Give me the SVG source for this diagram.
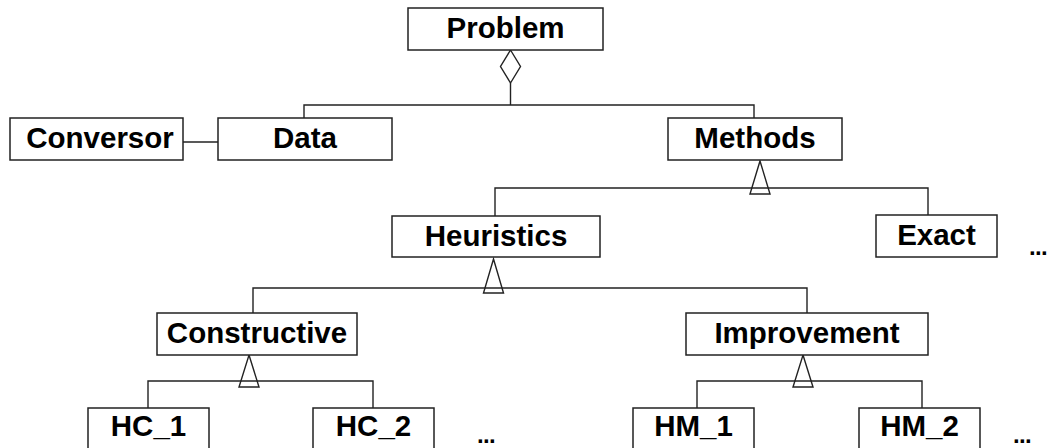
<svg xmlns="http://www.w3.org/2000/svg" width="1047" height="448" viewBox="0 0 1047 448">
<style>
.box{fill:#fff;stroke:#222;stroke-width:1.5}
.lbl{font-family:"Liberation Sans",Arial,sans-serif;font-weight:bold;font-size:29.5px;fill:#000;text-anchor:middle}
.dots{font-family:"Liberation Sans",Arial,sans-serif;font-weight:bold;font-size:24px;letter-spacing:-0.7px;fill:#000}
.ln{fill:none;stroke:#222;stroke-width:1.4}
.tri{fill:#fff;stroke:#222;stroke-width:1.4}
</style>
<rect width="1047" height="448" fill="#fff"/>
<g id="connectors">
  <polygon class="tri" points="510.5,50 520.5,66.5 510.5,83 500.5,66.5"/>
  <path class="ln" d="M510.5,83V105M304,118V105H754V118"/>
  <path class="ln" d="M183,142H218"/>
  <polygon class="tri" points="760,161 770,194 750,194"/>
  <path class="ln" d="M495,216V188H928V215"/>
  <polygon class="tri" points="493.5,259 503.5,293 483.5,293"/>
  <path class="ln" d="M253,313V288H807V313"/>
  <polygon class="tri" points="249,355 259,387 239,387"/>
  <path class="ln" d="M148,408V381H373V408"/>
  <polygon class="tri" points="803,355 813,387 793,387"/>
  <path class="ln" d="M697,408V381H922V408"/>
</g>
<g id="problem"><rect class="box" x="408" y="8" width="195" height="42"/><text class="lbl" x="505.5" y="37.5">Problem</text></g>
<g id="conversor"><rect class="box" x="10" y="118" width="173" height="42"/><text class="lbl" x="100" y="147.5">Conversor</text></g>
<g id="data"><rect class="box" x="218" y="118" width="174" height="42"/><text class="lbl" x="305" y="147.5">Data</text></g>
<g id="methods"><rect class="box" x="668" y="118" width="174" height="42"/><text class="lbl" x="755" y="147.5">Methods</text></g>
<g id="heuristics"><rect class="box" x="392" y="216" width="208" height="41"/><text class="lbl" x="496" y="245.5">Heuristics</text></g>
<g id="exact"><rect class="box" x="876" y="215" width="121" height="42"/><text class="lbl" x="936.5" y="244.5">Exact</text></g>
<g id="more-methods"><text class="dots" x="1029" y="255">...</text></g>
<g id="constructive"><rect class="box" x="157" y="313" width="200" height="42"/><text class="lbl" x="257" y="342.5">Constructive</text></g>
<g id="improvement"><rect class="box" x="686" y="313" width="242" height="42"/><text class="lbl" x="807" y="342.5">Improvement</text></g>
<g id="hc1"><rect class="box" x="88" y="408" width="121" height="45"/><text class="lbl" x="148.5" y="436">HC_1</text></g>
<g id="hc2"><rect class="box" x="313" y="408" width="121" height="45"/><text class="lbl" x="373.5" y="436">HC_2</text></g>
<g id="more-hc"><text class="dots" x="477" y="443">...</text></g>
<g id="hm1"><rect class="box" x="633" y="408" width="121" height="45"/><text class="lbl" x="693.5" y="436">HM_1</text></g>
<g id="hm2"><rect class="box" x="859" y="408" width="121" height="45"/><text class="lbl" x="919.5" y="436">HM_2</text></g>
<g id="more-hm"><text class="dots" x="1013" y="443">...</text></g>
</svg>
